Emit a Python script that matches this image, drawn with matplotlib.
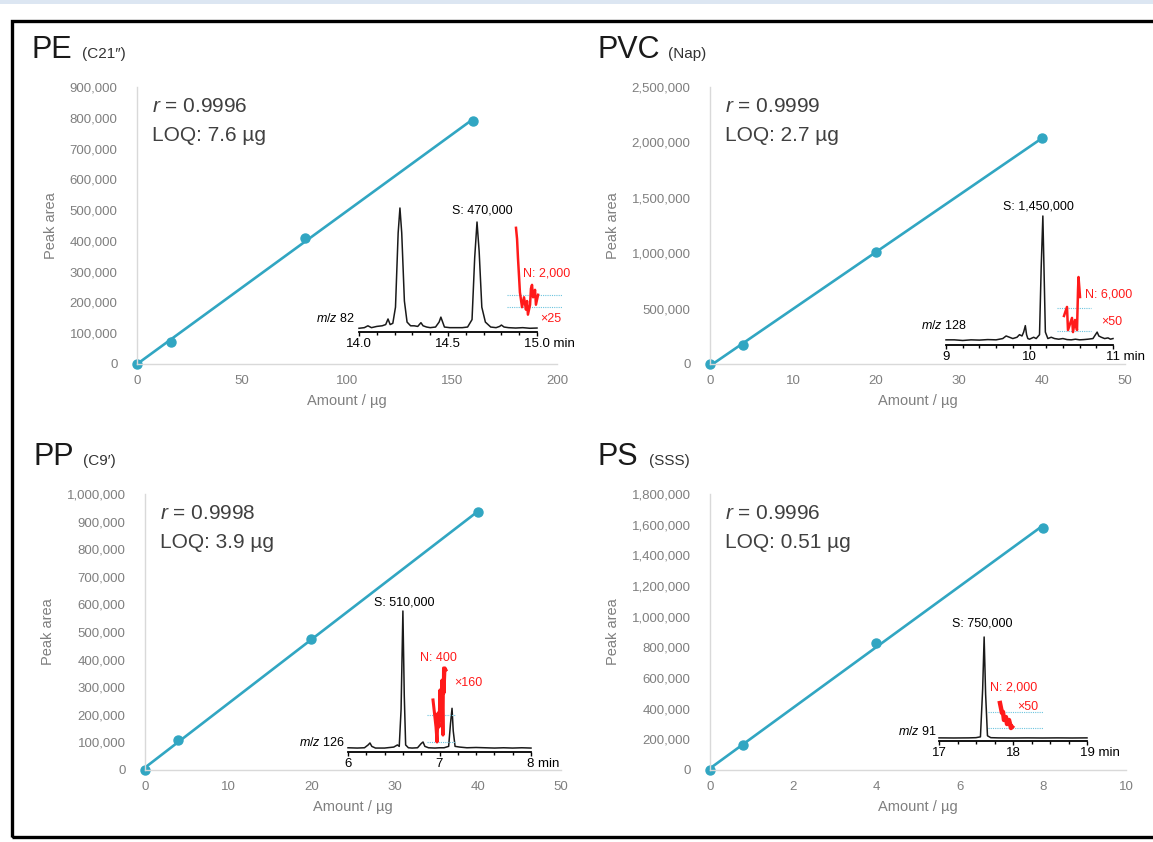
import numpy as np
import matplotlib
matplotlib.use("Agg")
import matplotlib.pyplot as plt
from matplotlib.patches import Rectangle
from matplotlib.ticker import FuncFormatter, MultipleLocator
from matplotlib.transforms import ScaledTranslation

plt.rcParams["font.family"] = ["Liberation Sans", "DejaVu Sans"]
plt.rcParams["mathtext.fontset"] = "custom"
plt.rcParams["mathtext.rm"] = "Liberation Sans"
plt.rcParams["mathtext.it"] = "Liberation Sans:italic"

# calibration data: amount (ug) vs peak area
pe_amount = [0, 16, 80, 160]
pe_area = [0, 72000, 410000, 790000]
pvc_amount = [0, 4, 20, 40]
pvc_area = [0, 170000, 1010000, 2040000]
pp_amount = [0, 4, 20, 40]
pp_area = [0, 110000, 475000, 935000]
ps_amount = [0, 0.8, 4, 8]
ps_area = [0, 165000, 830000, 1580000]

# chromatogram traces (time / min, relative intensity)
pe_t = [14.00, 14.03, 14.05, 14.07, 14.10, 14.13, 14.15, 14.163, 14.175, 14.19, 14.205,
        14.22, 14.23, 14.24, 14.255, 14.27, 14.29, 14.31, 14.33, 14.348, 14.36, 14.38,
        14.40, 14.43, 14.45, 14.46, 14.47, 14.48, 14.51, 14.55, 14.58, 14.61, 14.635,
        14.65, 14.663, 14.675, 14.69, 14.71, 14.74, 14.77, 14.79, 14.80, 14.815, 14.84,
        14.88, 14.92, 14.96, 15.00]
pe_i = [3, 3.5, 5, 3.5, 4.5, 5, 6, 10.5, 6, 7, 20,
        80, 100, 80, 25, 8, 5, 5, 4.5, 7.5, 5, 4,
        3.5, 4, 8, 12, 8, 4, 3.5, 3.5, 3.5, 4, 10,
        60, 88.7, 65, 20, 8, 4, 3.5, 4.5, 5.6, 4, 3.5,
        3.2, 3.5, 3, 3.2]
pe_noise_t = [14.882, 14.888, 14.893, 14.899, 14.904, 14.916, 14.927, 14.938, 14.944,
              14.949, 14.961, 14.966, 14.972, 14.978, 14.989, 14.994, 15.006]
pe_noise_i = [84, 75, 60, 45, 32, 20, 28, 18, 25, 14, 22, 35, 38, 28, 34, 22, 30]

pvc_t = [9.0, 9.1, 9.2, 9.3, 9.4, 9.5, 9.6, 9.68, 9.72, 9.76, 9.8, 9.85, 9.88, 9.91,
         9.93, 9.95, 9.965, 9.98, 10.0, 10.05, 10.08, 10.12, 10.14, 10.16, 10.175,
         10.19, 10.22, 10.26, 10.3, 10.35, 10.4, 10.45, 10.5, 10.55, 10.6, 10.65, 10.7,
         10.76, 10.79, 10.81, 10.83, 10.86, 10.9, 10.94, 10.97, 11.0]
pvc_i = [4, 4, 3.5, 4, 3.8, 4.2, 4, 5, 7, 6, 5, 6, 8, 7,
         10, 15, 8, 5, 4.5, 6, 5, 8, 60, 100, 55,
         10, 5, 6, 5, 4.5, 5, 4.2, 4, 4.5, 4, 4.2, 4.5,
         5, 8, 10, 7, 6, 5, 5.5, 4.5, 5]
pvc_noise_t = [10.413, 10.449, 10.461, 10.509, 10.521, 10.545, 10.569, 10.581, 10.587, 10.605]
pvc_noise_i = [22.5, 29.5, 11.6, 21, 10, 19.4, 11.6, 42.6, 52.7, 37.2]

pp_t = [6.0, 6.1, 6.18, 6.22, 6.24, 6.26, 6.3, 6.4, 6.5, 6.54, 6.56, 6.58, 6.60, 6.615,
        6.63, 6.66, 6.7, 6.76, 6.80, 6.82, 6.84, 6.88, 6.95, 7.0, 7.05, 7.10, 7.12,
        7.137, 7.15, 7.17, 7.22, 7.3, 7.4, 7.5, 7.6, 7.7, 7.8, 7.9, 8.0]
pp_i = [3, 2.8, 3, 5, 6.4, 4, 2.8, 2.8, 3.5, 5, 4, 30, 100, 40,
        5, 3, 2.8, 3, 6, 7.1, 4, 3, 2.8, 3, 3, 4, 20,
        31, 15, 4, 3.5, 3, 3.2, 3, 2.8, 3, 2.8, 3, 2.8]
pp_noise_t = [6.929, 6.962, 6.973, 6.984, 6.995, 7.005, 7.016, 7.027, 7.038, 7.044,
              7.049, 7.06, 7.071]
pp_noise_i = [36.9, 17.7, 7.1, 27.7, 17.7, 44, 22.7, 51, 12, 59.6, 41.8, 59.6, 58.2]

ps_t = [17.0, 17.2, 17.4, 17.5, 17.56, 17.59, 17.61, 17.63, 17.655, 17.7, 17.8, 18.0,
        18.2, 18.4, 18.6, 18.8, 19.0]
ps_i = [3, 2.9, 3, 3.2, 4, 50, 100, 45, 5, 3.2, 3, 2.9, 3, 2.9, 3, 2.9, 3]
ps_noise_t = [17.824, 17.851, 17.865, 17.878, 17.905, 17.919, 17.946, 17.973, 17.986]
ps_noise_i = [36.5, 27, 27.9, 20.2, 23, 16.3, 20.2, 12.5, 13.5]

W, H = 1153, 842
LINE = "#31a6c2"
GRAY = "#7f7f7f"
RED = "#ff1a1a"


def box(l, t, r, b):
    return [l / W, 1 - b / H, (r - l) / W, (b - t) / H]


fig = plt.figure(figsize=(W / 100, H / 100), dpi=100)
fig.patches.append(Rectangle((0, 1 - 4 / H), 1, 4 / H, transform=fig.transFigure,
                             facecolor="#dce6f2", edgecolor="none"))
fig.patches.append(Rectangle((11.5 / W, 1 - 837 / H), 1.2, (837 - 20.5) / H,
                             transform=fig.transFigure, facecolor="none",
                             edgecolor="black", linewidth=2.4))


def calib(rect, x, y, xmax, xstep, ymax, ystep, r_txt, loq_txt):
    ax = fig.add_axes(box(*rect))
    ax.set_xlim(0, xmax)
    ax.set_ylim(0, ymax)
    for s in ["top", "right"]:
        ax.spines[s].set_visible(False)
    for s in ["left", "bottom"]:
        ax.spines[s].set_color("#d9d9d9")
        ax.spines[s].set_linewidth(1.0)
    ax.xaxis.set_major_locator(MultipleLocator(xstep))
    ax.yaxis.set_major_locator(MultipleLocator(ystep))
    ax.yaxis.set_major_formatter(FuncFormatter(lambda v, p: f"{v:,.0f}"))
    ax.tick_params(length=0, labelsize=9.5, labelcolor=GRAY)
    ax.tick_params(axis="y", pad=14)
    ax.tick_params(axis="x", pad=8)
    ax.set_ylabel("Peak area", fontsize=10.5, color=GRAY, labelpad=8)
    ax.set_xlabel("Amount / µg", fontsize=10.5, color=GRAY, labelpad=5)
    k, b = np.polyfit(x, y, 1)
    xs = np.array([0, max(x)])
    ax.plot(xs, k * xs + b, color=LINE, lw=1.9, clip_on=False)
    ax.plot(x, y, "o", color=LINE, ms=6.5, clip_on=False)
    ax.text(0.035, 0.93, "$r$ = " + r_txt, transform=ax.transAxes, fontsize=15,
            color="#404040", va="center")
    ax.text(0.035, 0.825, "LOQ: " + loq_txt, transform=ax.transAxes, fontsize=15,
            color="#404040", va="center")
    ax.patch.set_alpha(0)
    return ax


def chrom(rect, t, i, nt, ni, t0, t1, ticks, fmt, minor, dots, s_lab, n_lab, x_lab,
          mz, red_lw=1.8):
    ax = fig.add_axes(box(*rect))
    ax.patch.set_alpha(0)
    ax.set_xlim(t0, t1)
    ax.set_ylim(0, 100)
    for s in ["top", "right", "left"]:
        ax.spines[s].set_visible(False)
    ax.spines["bottom"].set_linewidth(1.3)
    ax.set_yticks([])
    ax.set_xticks(ticks)
    labels = [fmt.format(v) for v in ticks]
    labels[-1] += " min"
    ax.set_xticklabels(labels)
    ax.xaxis.set_minor_locator(MultipleLocator(minor))
    ax.tick_params(axis="x", which="major", length=3, width=1, pad=1.5, labelsize=9.5)
    ax.tick_params(axis="x", which="minor", length=2, width=1)
    last = ax.get_xticklabels()[-1]
    last.set_transform(last.get_transform() + ScaledTranslation(9 / 72, 0, fig.dpi_scale_trans))
    ax.plot(t, i, color="#1a1a1a", lw=1.1, clip_on=False)
    for lvl in dots[2:]:
        ax.plot([dots[0], dots[1]], [lvl, lvl], color="#6cc4de", lw=0.8, ls=(0, (1, 1)),
                clip_on=False)
    ax.plot(nt, ni, color=RED, lw=red_lw, clip_on=False)
    ax.text(s_lab[0], s_lab[1], s_lab[2], fontsize=9, ha="center", va="center")
    ax.text(n_lab[0], n_lab[1], n_lab[2], fontsize=9, color=RED, ha=n_lab[3],
            va="center")
    ax.text(x_lab[0], x_lab[1], x_lab[2], fontsize=9, color=RED, ha=x_lab[3],
            va="center")
    ax.text(mz[0], mz[1], mz[2], fontsize=9, ha="right", va="center")
    return ax


def title(x, y, big, small, dx):
    fig.text(x / W, 1 - y / H, big, fontsize=22, color="#1a1a1a", va="baseline")
    fig.text((x + dx) / W, 1 - y / H, small, fontsize=11, color="#333333",
             va="baseline")


title(32, 58, "PE", "(C21″)", 50)
title(598, 58, "PVC", "(Nap)", 70)
title(34, 465, "PP", "(C9′)", 49)
title(598, 465, "PS", "(SSS)", 51)

calib((137, 87, 557, 364), pe_amount, pe_area, 200, 50, 900000, 100000, "0.9996", "7.6 µg")
calib((710, 87, 1125, 364), pvc_amount, pvc_area, 50, 10, 2500000, 500000, "0.9999", "2.7 µg")
calib((145, 494, 561, 770), pp_amount, pp_area, 50, 10, 1000000, 100000, "0.9998", "3.9 µg")
calib((710, 494, 1126, 770), ps_amount, ps_area, 10, 2, 1800000, 200000, "0.9996", "0.51 µg")

chrom((359, 208, 537, 332), pe_t, pe_i, pe_noise_t, pe_noise_i, 14.0, 15.0,
      [14.0, 14.5, 15.0], "{:.1f}", 0.1, (14.83, 15.14, 30, 20),
      (14.69, 98, "S: 470,000"), (14.92, 47, "N: 2,000", "left"),
      (15.02, 10.5, "×25", "left"), (13.98, 10.5, "$m/z$ 82"))
chrom((946, 216, 1113, 345), pvc_t, pvc_i, pvc_noise_t, pvc_noise_i, 9.0, 11.0,
      [9, 10, 11], "{:g}", 0.2, (10.33, 10.74, 28.7, 10.9),
      (10.11, 107, "S: 1,450,000"), (10.67, 39, "N: 6,000", "left"),
      (10.86, 18, "×50", "left"), (9.25, 15, "$m/z$ 128"))
chrom((348, 611, 531, 752), pp_t, pp_i, pp_noise_t, pp_noise_i, 6.0, 8.0,
      [6, 7, 8], "{:g}", 0.2, (6.86, 7.17, 26.2, 7.1),
      (6.62, 106, "S: 510,000"), (6.99, 67, "N: 400", "center"),
      (7.16, 49, "×160", "left"), (5.97, 6.4, "$m/z$ 126"), red_lw=2.2)
chrom((939, 637, 1087, 741), ps_t, ps_i, ps_noise_t, ps_noise_i, 17.0, 19.0,
      [17, 18, 19], "{:g}", 0.25, (17.66, 18.41, 27.9, 12.5),
      (17.59, 112.5, "S: 750,000"), (18.01, 51, "N: 2,000", "center"),
      (18.34, 32.7, "×50", "right"), (16.97, 9.6, "$m/z$ 91"), red_lw=3.2)

fig.savefig("out.png", dpi=100)
